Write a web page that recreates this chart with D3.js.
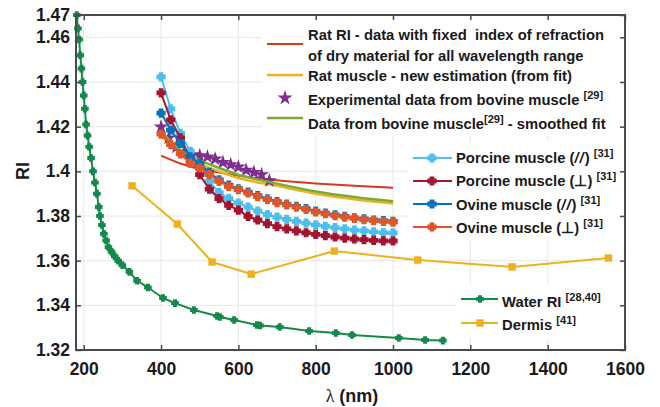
<!DOCTYPE html>
<html>
<head>
<meta charset="utf-8">
<script src="https://cdn.jsdelivr.net/npm/d3@7"></script>
<style>
  body { margin: 0; background: #fff; }
  svg { display: block; font-family: "Liberation Sans", Arial, sans-serif; font-weight: bold; }
</style>
</head>
<body>
<svg id="chart" width="660" height="407"></svg>
<script>
// ---- data ----
const xTicks = [200, 400, 600, 800, 1000, 1200, 1400, 1600];
const yTicks = [1.32, 1.34, 1.36, 1.38, 1.40, 1.42, 1.44, 1.46, 1.47];
const yTickLabels = ["1.32", "1.34", "1.36", "1.38", "1.4", "1.42", "1.44", "1.46", "1.47"];

// smooth model curves
const fitLambda = [400, 450, 500, 550, 600, 700, 800, 900, 1000];
const ratRI      = [1.4070, 1.4035, 1.4010, 1.3995, 1.3980, 1.3960, 1.3946, 1.3935, 1.3927];
const ratMuscle  = [1.4160, 1.4080, 1.4035, 1.4000, 1.3970, 1.3935, 1.3900, 1.3875, 1.3856];
const bovineFit  = [1.4180, 1.4095, 1.4050, 1.4015, 1.3985, 1.3945, 1.3910, 1.3885, 1.3866];

// experimental bovine muscle
const bovineLambda = [400, 420, 440, 460, 480, 500, 520, 540, 560, 580, 600, 620, 640, 660, 680];
const bovineRI     = [1.4199, 1.4150, 1.4110, 1.4085, 1.4075, 1.4070, 1.4065, 1.4055, 1.4040, 1.4030, 1.4020, 1.4005, 1.3995, 1.3985, 1.3958];

// porcine / ovine muscle
const muscleLambda = [400, 425, 450, 475, 500, 525, 550, 575, 600, 625, 650, 675, 700,
                      725, 750, 775, 800, 825, 850, 875, 900, 925, 950, 975, 1000];
const porcinePar  = [1.4423, 1.4280, 1.4170, 1.4090, 1.4030, 1.3955, 1.3905, 1.3878, 1.3858, 1.3840, 1.3822, 1.3806, 1.3795,
                     1.3785, 1.3776, 1.3768, 1.3760, 1.3754, 1.3748, 1.3742, 1.3737, 1.3733, 1.3729, 1.3726, 1.3724];
const porcinePerp = [1.4351, 1.4230, 1.4150, 1.4060, 1.3985, 1.3920, 1.3878, 1.3848, 1.3826, 1.3798, 1.3782, 1.3766, 1.3752,
                     1.3742, 1.3733, 1.3725, 1.3718, 1.3712, 1.3706, 1.3701, 1.3697, 1.3694, 1.3691, 1.3689, 1.3688];
const ovinePar    = [1.4261, 1.4185, 1.4125, 1.4065, 1.4035, 1.3995, 1.3962, 1.3938, 1.3922, 1.3907, 1.3891, 1.3877, 1.3864,
                     1.3853, 1.3843, 1.3833, 1.3822, 1.3813, 1.3805, 1.3798, 1.3792, 1.3787, 1.3782, 1.3779, 1.3776];
const ovinePerp   = [1.4167, 1.4120, 1.4078, 1.4037, 1.4015, 1.3985, 1.3955, 1.3932, 1.3918, 1.3903, 1.3887, 1.3873, 1.3860,
                     1.3850, 1.3840, 1.3830, 1.3818, 1.3810, 1.3802, 1.3795, 1.3789, 1.3784, 1.3779, 1.3776, 1.3773];

// water
const waterLambda = [182, 185, 188, 191, 194, 197, 200, 203, 206, 210, 214, 219, 224, 229, 234, 239, 242, 247, 252,
                     258, 264, 272, 280, 289, 300, 318, 338, 366, 405, 436, 485, 545, 552, 589, 648, 656, 707, 783,
                     852, 894, 1015, 1083, 1129];
const waterRI     = [1.4700, 1.4640, 1.4590, 1.4520, 1.4460, 1.4400, 1.4340, 1.4280, 1.4210, 1.4160, 1.4110, 1.4060,
                     1.4000, 1.3950, 1.3900, 1.3840, 1.3800, 1.3760, 1.3720, 1.3690, 1.3660, 1.3640, 1.3620, 1.3600,
                     1.3580, 1.3550, 1.3510, 1.3480, 1.3433, 1.3410, 1.3379, 1.3352, 1.3348, 1.3334, 1.3312, 1.3310,
                     1.3303, 1.3285, 1.3276, 1.3267, 1.3254, 1.3245, 1.3242];

// dermis
const dermisLambda = [325, 442, 532, 633, 848, 1064, 1308, 1557];
const dermisRI     = [1.3935, 1.3764, 1.3594, 1.3540, 1.3643, 1.3603, 1.3572, 1.3612];

// ---- layout ----
const plotLeft = 76, plotRight = 625, plotTop = 15, plotBottom = 350;
const svg = d3.select("#chart");

const x = d3.scaleLinear().domain([180, 1600]).range([plotLeft, plotRight]);
const y = d3.scaleLinear().domain([1.32, 1.47]).range([plotBottom, plotTop]);

// Grid
const grid = svg.append("g").attr("stroke", "#e6e6e6").attr("stroke-width", 1);
grid.selectAll(".vg").data(xTicks).enter().append("line")
    .attr("x1", d => x(d)).attr("x2", d => x(d)).attr("y1", plotTop).attr("y2", plotBottom);
grid.selectAll(".hg").data(yTicks).enter().append("line")
    .attr("x1", plotLeft).attr("x2", plotRight).attr("y1", d => y(d)).attr("y2", d => y(d));

// Blocky "plus" marker, like the thick crosses in the figure
function plusSymbol(r, a) {
    return {
        draw(ctx) {
            ctx.moveTo(-a, -r); ctx.lineTo(a, -r); ctx.lineTo(a, -a); ctx.lineTo(r, -a);
            ctx.lineTo(r, a); ctx.lineTo(a, a); ctx.lineTo(a, r); ctx.lineTo(-a, r);
            ctx.lineTo(-a, a); ctx.lineTo(-r, a); ctx.lineTo(-r, -a); ctx.lineTo(-a, -a);
            ctx.closePath();
        }
    };
}
const musclePlus = plusSymbol(4.6, 2.4);
const waterPlus = plusSymbol(3.8, 2.0);

// Helpers
function zip(xs, ys) { return xs.map((v, i) => [v, ys[i]]); }

function drawLine(xs, ys, color, width, curve) {
    const line = d3.line().x(d => x(d[0])).y(d => y(d[1])).curve(curve || d3.curveLinear);
    svg.append("path").datum(zip(xs, ys))
        .attr("d", line).attr("fill", "none")
        .attr("stroke", color).attr("stroke-width", width)
        .attr("stroke-linejoin", "round");
}

function drawMarkers(xs, ys, color, type, size) {
    const sym = d3.symbol().type(type).size(size);
    svg.append("g").selectAll("path").data(zip(xs, ys)).enter().append("path")
        .attr("d", sym)
        .attr("transform", d => `translate(${x(d[0])},${y(d[1])})`)
        .attr("fill", color);
}

// Series
drawLine(fitLambda, ratRI, "#d8381e", 2, d3.curveMonotoneX);
drawLine(fitLambda, ratMuscle, "#edb120", 2.5, d3.curveMonotoneX);
drawMarkers(bovineLambda, bovineRI, "#7e2f8e", d3.symbolStar, 70);
drawLine(fitLambda, bovineFit, "#77ac30", 2.5, d3.curveMonotoneX);

drawLine(muscleLambda, porcinePar, "#4dbeee", 2, d3.curveLinear);
drawMarkers(muscleLambda, porcinePar, "#4dbeee", musclePlus, 1);
drawLine(muscleLambda, porcinePerp, "#a2142f", 2, d3.curveLinear);
drawMarkers(muscleLambda, porcinePerp, "#a2142f", musclePlus, 1);
drawLine(muscleLambda, ovinePar, "#0072bd", 2, d3.curveLinear);
drawMarkers(muscleLambda, ovinePar, "#0072bd", musclePlus, 1);
drawLine(muscleLambda, ovinePerp, "#e0562a", 2, d3.curveLinear);
drawMarkers(muscleLambda, ovinePerp, "#e0562a", musclePlus, 1);

drawLine(waterLambda, waterRI, "#138a4a", 2, d3.curveLinear);
drawMarkers(waterLambda, waterRI, "#138a4a", waterPlus, 1);

drawLine(dermisLambda, dermisRI, "#edb120", 2, d3.curveLinear);
drawMarkers(dermisLambda, dermisRI, "#edb120", d3.symbolSquare, 55);

// ---- legends ----
function legendBox(bx, by, bw, bh) {
    svg.append("rect").attr("x", bx).attr("y", by).attr("width", bw).attr("height", bh).attr("fill", "#fff");
}

// text with optional superscript part
function legendText(tx, ty, parts, size) {
    const t = svg.append("text").attr("x", tx).attr("y", ty).attr("font-size", size).attr("fill", "#1a1a1a");
    parts.forEach(p => {
        const s = t.append("tspan").text(p.t);
        if (p.sup) s.attr("font-size", size * 0.75).attr("dy", -6);
        if (p.down) s.attr("dy", 6);
        if (p.it) s.attr("font-style", "italic").attr("letter-spacing", 1);
    });
    return t;
}

function legendLine(x1, x2, ly, color, width) {
    svg.append("line").attr("x1", x1).attr("x2", x2).attr("y1", ly).attr("y2", ly)
        .attr("stroke", color).attr("stroke-width", width);
}

function legendMarker(mx, my, color, type, size) {
    svg.append("path").attr("d", d3.symbol().type(type).size(size)())
        .attr("transform", `translate(${mx},${my})`).attr("fill", color);
}

// Legend 1
legendBox(262, 20, 358, 116);
const fs = 14.8;
legendLine(267, 303, 44, "#d8381e", 2);
legendText(308, 40, [{t: "Rat RI - data with fixed\u00a0 index of refraction"}], fs);
legendText(308, 61, [{t: "of dry material for all wavelength range"}], fs);
legendLine(267, 303, 75, "#edb120", 2.5);
legendText(308, 81, [{t: "Rat muscle - new estimation (from fit)"}], fs);
legendMarker(285, 98, "#7e2f8e", d3.symbolStar, 70);
legendText(308, 105, [{t: "Experimental data from bovine muscle "}, {t: "[29]", sup: true}], fs);
legendLine(267, 303, 118, "#77ac30", 2.5);
legendText(308, 129, [{t: "Data from bovine muscle"}, {t: "[29]", sup: true}, {t: " - smoothed fit", down: true}], fs);

// Legend 2
legendBox(408, 142, 212, 98);
const leg2 = [
    {label: "Porcine muscle (", sym: "//", color: "#4dbeee", ly: 158, ty: 163},
    {label: "Porcine muscle (", sym: "\u22a5", color: "#a2142f", ly: 181, ty: 186},
    {label: "Ovine muscle (", sym: "//", color: "#0072bd", ly: 204, ty: 210},
    {label: "Ovine muscle (", sym: "\u22a5", color: "#e0562a", ly: 227, ty: 233}
];
leg2.forEach(e => {
    legendLine(413, 452, e.ly, e.color, 2);
    legendMarker(432, e.ly, e.color, musclePlus, 1);
    legendText(456, e.ty, [{t: e.label}, {t: e.sym, it: e.sym === "//"}, {t: ") "}, {t: "[31]", sup: true}], fs);
});

// Legend 3
legendBox(456, 284, 164, 54);
legendLine(461, 498, 299, "#138a4a", 2);
legendMarker(480, 299, "#138a4a", waterPlus, 1);
legendText(502, 307, [{t: "Water RI "}, {t: "[28,40]", sup: true}], fs);
legendLine(461, 498, 323, "#edb120", 2);
legendMarker(480, 323, "#edb120", d3.symbolSquare, 55);
legendText(502, 330, [{t: "Dermis "}, {t: "[41]", sup: true}], fs);

// ---- axes ----
const axisColor = "#4a4a4a";
const tickFont = 17.5;

const xAxis = svg.append("g").attr("transform", `translate(0,${plotBottom})`)
    .call(d3.axisBottom(x).tickValues(xTicks).tickFormat(d3.format("d"))
        .tickSizeInner(-5).tickSizeOuter(0).tickPadding(13));
const yAxis = svg.append("g").attr("transform", `translate(${plotLeft},0)`)
    .call(d3.axisLeft(y).tickValues(yTicks).tickFormat((d, i) => yTickLabels[i]).tickSizeInner(-5).tickSizeOuter(0).tickPadding(6));
const xTopAxis = svg.append("g").attr("transform", `translate(0,${plotTop})`)
    .call(d3.axisTop(x).tickValues(xTicks).tickFormat("").tickSizeInner(-5).tickSizeOuter(0));
const yRightAxis = svg.append("g").attr("transform", `translate(${plotRight},0)`)
    .call(d3.axisRight(y).tickValues(yTicks).tickFormat("").tickSizeInner(-5).tickSizeOuter(0));

[xAxis, yAxis, xTopAxis, yRightAxis].forEach(a => {
    a.select(".domain").attr("stroke", "none");
    a.selectAll(".tick line").attr("stroke", axisColor).attr("stroke-width", 1.5);
    a.selectAll("text").attr("font-size", tickFont).attr("font-weight", "bold")
        .attr("font-family", "'Liberation Sans', Arial, sans-serif").attr("fill", "#1a1a1a");
});

svg.append("rect").attr("x", plotLeft).attr("y", plotTop)
    .attr("width", plotRight - plotLeft).attr("height", plotBottom - plotTop)
    .attr("fill", "none").attr("stroke", axisColor).attr("stroke-width", 2);

// Axis titles
svg.append("text").attr("transform", "translate(29,171) rotate(-90)")
    .attr("text-anchor", "middle").attr("font-size", 18).attr("fill", "#1a1a1a").text("RI");

const xl = svg.append("text").attr("x", 352).attr("y", 402).attr("text-anchor", "middle")
    .attr("font-size", 18).attr("fill", "#1a1a1a");
xl.append("tspan").attr("font-family", "'Liberation Serif', serif").attr("font-weight", "normal").text("\u03bb");
xl.append("tspan").text(" (nm)");
</script>
</body>
</html>
